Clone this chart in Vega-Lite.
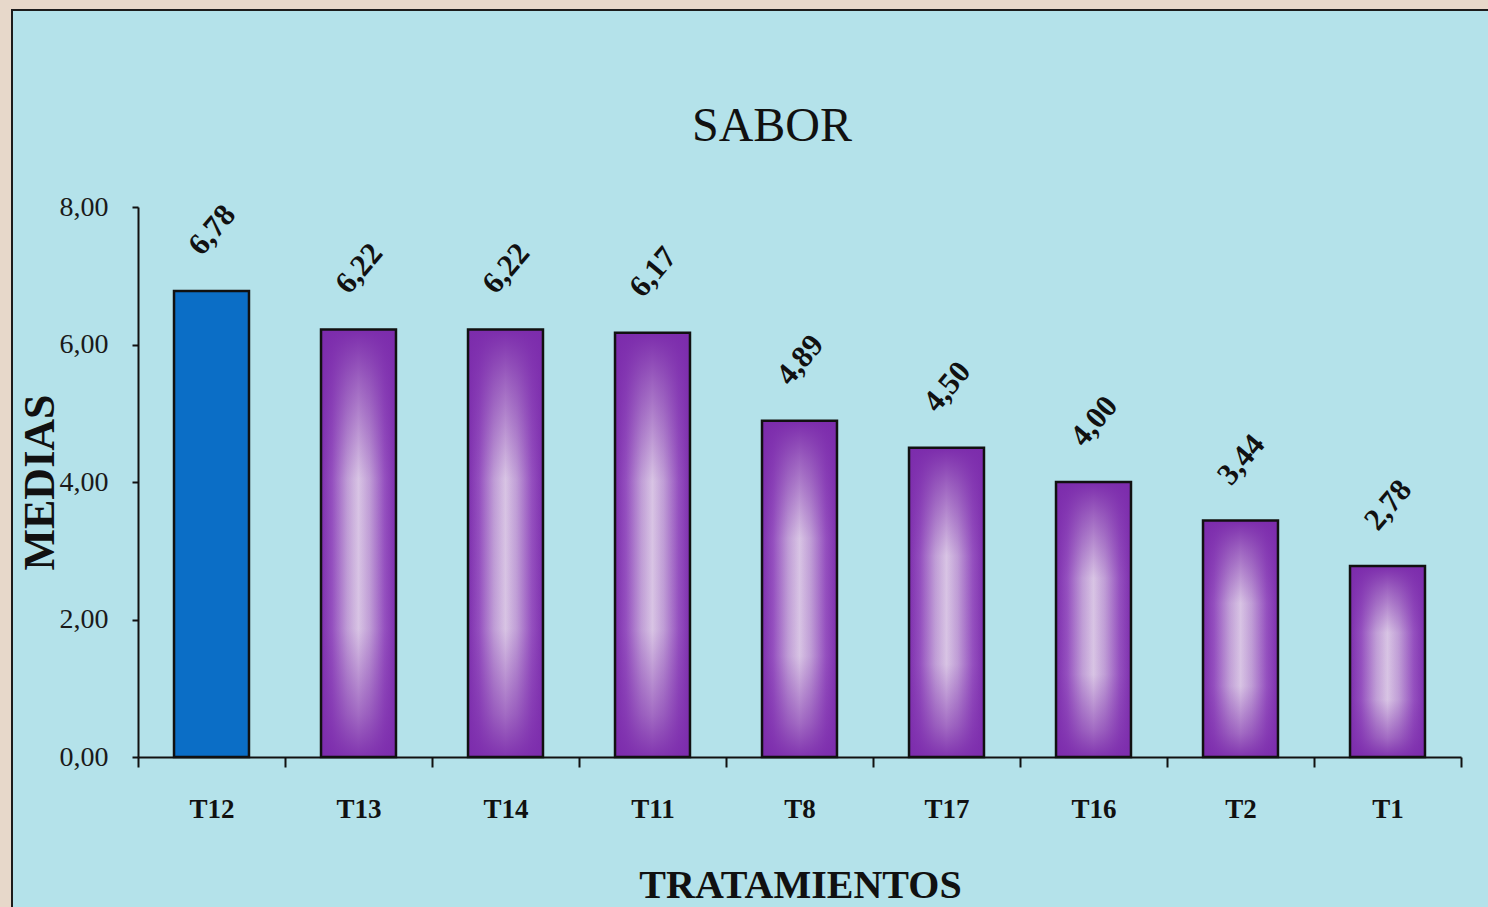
{
  "$schema": "https://vega.github.io/schema/vega-lite/v6.json",
  "width": 1478,
  "height": 899,
  "autosize": {"type": "none"},
  "padding": {"left": 12, "top": 10, "right": 0, "bottom": 0},
  "background": "#e7d8ca",
  "title": {
    "text": "SABOR",
    "font": "Liberation Serif",
    "fontSize": 48,
    "fontWeight": "normal",
    "color": "#111111",
    "anchor": "middle",
    "frame": "group",
    "offset": 0,
    "baseline": "alphabetic",
    "dx": 21,
    "dy": 179
  },
  "data": {
    "values": [
      {"trat": "T12", "media": 6.78},
      {"trat": "T13", "media": 6.22},
      {"trat": "T14", "media": 6.22},
      {"trat": "T11", "media": 6.17},
      {"trat": "T8", "media": 4.89},
      {"trat": "T17", "media": 4.5},
      {"trat": "T16", "media": 4.0},
      {"trat": "T2", "media": 3.44},
      {"trat": "T1", "media": 2.78}
    ]
  },
  "encoding": {
    "x": {
      "field": "trat",
      "type": "nominal",
      "scale": {
        "domain": ["T12", "T13", "T14", "T11", "T8", "T17", "T16", "T2", "T1"],
        "range": [126, 1449],
        "paddingInner": 0,
        "paddingOuter": 0
      },
      "axis": {
        "title": "TRATAMIENTOS",
        "orient": "bottom",
        "offset": -152,
        "tickBand": "extent",
        "tickSize": 10,
        "tickWidth": 2,
        "tickColor": "#111111",
        "domainWidth": 2,
        "domainColor": "#111111",
        "labelAngle": 0,
        "labelFont": "Liberation Serif",
        "labelFontSize": 27,
        "labelFontWeight": "bold",
        "labelColor": "#111111",
        "labelPadding": 29,
        "titleFont": "Liberation Serif",
        "titleFontSize": 40,
        "titleFontWeight": "bold",
        "titleColor": "#111111",
        "titleX": 788,
        "titleY": 140,
        "titleAlign": "center",
        "titleBaseline": "alphabetic"
      }
    },
    "y": {
      "field": "media",
      "type": "quantitative",
      "scale": {"domain": [0, 8], "range": [747, 197], "nice": false},
      "axis": {
        "title": "MEDIAS",
        "orient": "left",
        "offset": -126,
        "values": [0, 2, 4, 6, 8],
        "format": ".2f",
        "grid": false,
        "domainColor": "#111111",
        "domainWidth": 2,
        "tickColor": "#111111",
        "tickWidth": 2,
        "tickSize": 6,
        "labelFont": "Liberation Serif",
        "labelFontSize": 28,
        "labelColor": "#1a1a1a",
        "labelPadding": 24,
        "labelFlush": false,
        "labelOverlap": false,
        "titleFont": "Liberation Serif",
        "titleFontSize": 44,
        "titleFontWeight": "bold",
        "titleColor": "#111111",
        "titleAngle": -90,
        "titleX": -85,
        "titleY": 472,
        "titleAlign": "center",
        "titleBaseline": "alphabetic"
      }
    }
  },
  "layer": [
    {
      "transform": [{"filter": "datum.trat === 'T12'"}],
      "mark": {"type": "bar", "width": {"band": 0.51}, "fill": "#0b6ec6", "stroke": "#111111", "strokeWidth": 2.5}
    },
    {
      "transform": [{"filter": "datum.trat !== 'T12'"}],
      "mark": {
        "type": "bar",
        "width": {"band": 0.51},
        "fill": {
          "gradient": "linear",
          "x1": 0, "y1": 0, "x2": 1, "y2": 0,
          "stops": [
            {"offset": 0, "color": "#7e30ae"},
            {"offset": 0.15, "color": "#9652c0"},
            {"offset": 0.35, "color": "#c3a3d8"},
            {"offset": 0.5, "color": "#ddcce7"},
            {"offset": 0.65, "color": "#c3a3d8"},
            {"offset": 0.85, "color": "#9652c0"},
            {"offset": 1, "color": "#7e30ae"}
          ]
        }
      }
    },
    {
      "transform": [{"filter": "datum.trat !== 'T12'"}],
      "mark": {
        "type": "bar",
        "width": {"band": 0.51},
        "stroke": "#111111",
        "strokeWidth": 2.5,
        "fill": {
          "gradient": "linear",
          "x1": 0, "y1": 0, "x2": 0, "y2": 1,
          "stops": [
            {"offset": 0, "color": "rgba(124,44,172,1)"},
            {"offset": 0.12, "color": "rgba(124,44,172,0.65)"},
            {"offset": 0.35, "color": "rgba(124,44,172,0.05)"},
            {"offset": 0.7, "color": "rgba(124,44,172,0.05)"},
            {"offset": 0.9, "color": "rgba(124,44,172,0.6)"},
            {"offset": 1, "color": "rgba(124,44,172,0.95)"}
          ]
        }
      }
    },
    {
      "mark": {
        "type": "text",
        "font": "Liberation Serif",
        "fontSize": 31,
        "fontWeight": "bold",
        "color": "#111111",
        "angle": -50,
        "align": "center",
        "baseline": "middle",
        "dx": 47,
        "dy": -38
      },
      "encoding": {
        "text": {"field": "media", "type": "quantitative", "format": ".2f"}
      }
    }
  ],
  "config": {
    "view": {"fill": "#b4e2ea", "stroke": "#1c1c1c", "strokeWidth": 2},
    "locale": {
      "number": {
        "decimal": ",",
        "thousands": ".",
        "grouping": [3],
        "currency": ["", " €"]
      }
    }
  }
}
